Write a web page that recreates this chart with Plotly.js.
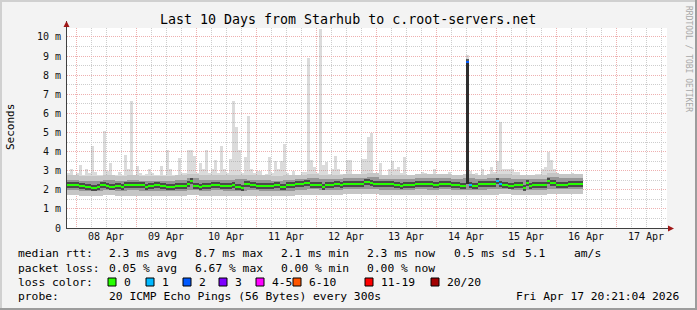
<!DOCTYPE html>
<html><head><meta charset="utf-8">
<script src="https://cdn.plot.ly/plotly-3.0.1.min.js"></script>
<style>html,body{margin:0;padding:0;background:#f3f3f3;} #chart{width:697px;height:310px;}</style>
</head><body><div id="chart"></div>
<script>
// ---- time base: hours relative to 08 Apr 00:00; window starts 07 Apr 20:24 ----
const startHour = -3.6;
const stepHours = 1.2;        // fine bins (median / max)
const smokeStepHours = 4.8;   // coarse bins (smoke bands)

// median RTT per fine bin (ms)
const medianMs = [
 2.25,2.25,2.25,2.25,2.2,2.2,2.15,2.15,2.1,2.1,
 2.15,2.25,2.25,2.2,2.15,2.15,2.2,2.2,2.15,2.25,
 2.25,2.25,2.25,2.25,2.25,2.25,2.15,2.2,2.2,2.25,
 2.25,2.2,2.2,2.15,2.15,2.15,2.2,2.2,2.2,2.2,
 2.3,2.45,2.2,2.2,2.15,2.2,2.2,2.2,2.25,2.25,
 2.25,2.2,2.2,2.2,2.2,2.25,2.15,2.15,2.1,2.3,
 2.3,2.25,2.25,2.2,2.2,2.2,2.2,2.2,2.2,2.25,
 2.25,2.15,2.15,2.25,2.25,2.25,2.3,2.3,2.3,2.35,
 2.35,2.25,2.25,2.25,2.25,2.15,2.25,2.25,2.25,2.3,
 2.3,2.25,2.3,2.3,2.3,2.3,2.3,2.3,2.3,2.4,
 2.4,2.35,2.3,2.3,2.3,2.3,2.3,2.3,2.3,2.25,
 2.25,2.2,2.25,2.25,2.25,2.25,2.3,2.3,2.3,2.3,
 2.3,2.3,2.25,2.25,2.3,2.3,2.3,2.3,2.25,2.25,
 2.25,2.2,2.2,8.7,2.25,2.2,2.2,2.3,2.3,2.3,
 2.3,2.3,2.3,2.45,2.3,2.25,2.25,2.2,2.2,2.25,
 2.25,2.25,2.1,2.35,2.2,2.25,2.25,2.25,2.25,2.25,
 2.45,2.35,2.35,2.25,2.25,2.25,2.25,2.3,2.3,2.3,
 2.3,2.3];

// max RTT per fine bin (ms)
const maxMs = [
 2.9,3.1,2.8,2.9,3.3,2.8,3.1,2.9,4.3,2.95,
 2.8,2.8,5.1,3.0,3.4,2.8,2.8,2.95,2.8,3.8,
 3.1,6.65,2.8,3.25,2.9,2.8,2.85,3.1,2.9,2.8,
 2.8,3.25,2.8,4.1,3.1,2.8,2.8,3.65,2.9,2.9,
 4.1,4.1,3.75,2.9,3.4,3.1,4.1,2.9,3.1,3.55,
 2.9,4.3,3.1,2.9,3.6,6.65,5.3,4.1,2.9,3.7,
 5.85,3.1,2.9,3.0,3.0,2.8,2.85,3.7,2.9,3.5,
 3.1,3.5,4.4,2.9,2.8,3.0,2.8,2.8,2.95,2.95,
 8.9,3.55,3.2,2.9,10.4,3.3,3.45,2.85,3.1,3.75,
 3.1,2.85,2.85,3.55,3.55,2.85,2.8,2.8,3.6,3.6,
 4.75,4.95,2.8,2.8,3.4,2.8,2.8,3.1,3.5,3.1,
 3.2,2.9,3.7,2.8,2.8,2.8,2.8,2.8,2.95,2.9,
 2.85,2.85,3.1,2.8,2.85,2.8,2.8,2.95,2.8,2.8,
 2.8,2.8,2.8,9.05,3.0,2.8,2.9,2.8,3.1,2.8,
 2.8,3.2,2.95,3.5,5.55,3.1,3.1,3.1,3.1,2.95,
 2.95,2.8,2.8,2.8,2.8,2.8,2.85,2.85,3.1,3.2,
 4.0,3.55,3.1,2.8,2.8,2.85,2.8,2.8,2.9,2.85,
 2.85,2.85];

// bins with packet loss (fine bin index -> lost pings)
const lossBins = [133,134,143,144];
const lossCounts = [2,1,1,1];

// dense smoke burst
const burstBins = [133];
const burstLoMs = [2.3];
const burstHiMs = [8.75];

// smoke bands per coarse bin (ms)
const smokeLoMs = [1.75,1.7,1.7,1.75,1.7,1.7,1.7,1.7,1.7,1.7,
 1.75,1.7,1.7,1.7,1.7,1.7,1.7,1.7,1.7,1.75,
 1.75,1.75,1.75,1.8,1.8,1.8,1.75,1.75,1.75,1.75,
 1.75,1.75,1.75,1.75,1.75,1.75,1.8,1.75,1.75,1.75,
 1.8,1.8,1.8];
const smokeQ1Ms = [2.0,1.95,1.95,2.0,1.95,2.0,1.95,1.95,1.95,1.95,
 2.0,1.95,2.0,1.95,1.95,2.0,1.95,1.95,1.95,2.0,
 2.05,2.0,2.0,2.05,2.05,2.05,2.0,2.0,2.0,2.05,
 2.0,2.05,2.0,2.0,2.0,2.05,2.05,2.0,2.0,2.0,
 2.05,2.05,2.05];
const smokeQ3Ms = [2.5,2.45,2.45,2.5,2.45,2.5,2.45,2.45,2.45,2.5,
 2.6,2.5,2.5,2.5,2.55,2.5,2.5,2.45,2.5,2.55,
 2.6,2.55,2.55,2.6,2.6,2.65,2.55,2.55,2.55,2.6,
 2.6,2.6,2.55,2.6,2.55,2.6,2.6,2.55,2.55,2.55,
 2.65,2.6,2.6];
const smokeHiMs = [2.75,2.7,2.7,2.75,2.7,2.75,2.7,2.7,2.7,2.75,
 2.85,2.75,2.75,2.75,2.8,2.8,2.75,2.7,2.75,2.8,
 2.85,2.8,2.8,2.85,2.85,2.9,2.8,2.8,2.8,2.85,
 2.85,2.85,2.8,2.85,2.8,2.85,2.85,2.8,2.8,2.8,
 2.9,2.85,2.85];

// axes
const dayTickHours = [0,24,48,72,96,120,144,168,192,216];
const dayTickLabels = ['08 Apr','09 Apr','10 Apr','11 Apr','12 Apr','13 Apr','14 Apr','15 Apr','16 Apr','17 Apr'];
const yTickVals = [0,1,2,3,4,5,6,7,8,9,10];
const yTickLabels = ['0','1 m','2 m','3 m','4 m','5 m','6 m','7 m','8 m','9 m','10 m'];

// legend
const lossLabels = ['0','1','2','3','4-5','6-10','11-19','20/20'];
const lossColors = ['#26ff00','#00b8ff','#0059ff','#7e00ff','#ff00ff','#ff5500','#ff0000','#a10000'];
const lossLimits = [0,1,2,3,5,10,19,20];
const rttLegend = ['median rtt:','2.3 ms avg','8.7 ms max','2.1 ms min','2.3 ms now','0.5 ms sd','5.1','am/s'];
const lossLegend = ['packet loss:','0.05 % avg','6.67 % max','0.00 % min','0.00 % now'];
const probeLegend = ['probe:','20 ICMP Echo Pings (56 Bytes) every 300s'];
const stampText = 'Fri Apr 17 20:21:04 2026';
const titleText = 'Last 10 Days from Starhub to c.root-servers.net';

// ---- layout helpers (pixel -> paper) ----
const L=67, T=28, W=600, H=200;
const px = x => (x-L)/W;
const py = y => (T+H-y)/H;
const MONO = 'DejaVu Sans Mono';
const xRange = [startHour, startHour+240];
const yRange = [0, 10.47];

const fineX = medianMs.map((_,i)=>startHour+stepHours*(i+0.5));
const coarseX = smokeLoMs.map((_,j)=>startHour+smokeStepHours*(j+0.5));
const fineLo = medianMs.map((_,i)=>smokeLoMs[Math.min(smokeLoMs.length-1, Math.floor(i*stepHours/smokeStepHours))]);
const lossPerBin = medianMs.map(()=>0);
lossBins.forEach((b,k)=>{lossPerBin[b]=lossCounts[k];});
const colorFor = n => lossColors[lossLimits.findIndex(t=>n<=t)];

const bar = (x, base, top, width, color, onLabelAxes) => Object.assign({
  type:'bar', x:x, base:base, y:top.map((t,i)=>t-base[i]), width:width,
  marker:{color:color, line:{width:0}}, hoverinfo:'skip', showlegend:false
}, onLabelAxes ? {xaxis:'x2', yaxis:'y2'} : {});

const traces = [
  bar(fineX, fineLo, maxMs, stepHours, 'rgba(150,150,150,0.34)'),
  bar(coarseX, smokeLoMs, smokeHiMs, smokeStepHours, '#c6c6c6'),
  bar(coarseX, smokeQ1Ms, smokeQ3Ms, smokeStepHours, '#969696'),
  bar(burstBins.map(b=>fineX[b]), burstLoMs, burstHiMs, stepHours, '#2d2d2d'),
  bar(fineX, medianMs.map(m=>m-0.17), medianMs.map(m=>m+0.17), stepHours, 'rgba(50,50,50,0.75)', true),
  bar(fineX, medianMs.map(m=>m-0.06), medianMs.map(m=>m+0.06), stepHours, lossPerBin.map(colorFor), true)
];

const annotations = [];
const txt = (text,x,y,opt={}) => annotations.push(Object.assign({
  text:text, x:px(x), y:py(y), xref:'paper', yref:'paper', showarrow:false,
  xanchor:'left', yanchor:'middle', font:{family:MONO, size:11.3, color:'#000'}
}, opt));

txt(titleText, 347.5, 19, {xanchor:'center', font:{family:MONO,size:13.3,color:'#000'}});
txt('Seconds', 10, 127, {xanchor:'center', textangle:-90, font:{family:MONO,size:11,color:'#000'}});
txt('RRDTOOL / TOBI OETIKER', 689, 59, {xanchor:'center', textangle:90, font:{family:MONO,size:8,color:'#a8a8a8'}});

const rttX = [16,107,193,279,365,452,523,572];
rttLegend.forEach((s,k)=>txt(s, rttX[k], 254));
const lossX = [16,107,193,279,365];
lossLegend.forEach((s,k)=>txt(s, lossX[k], 268));
txt('loss color:', 16, 282);
const boxX = [108,146,183,219,256,293,365,431];
lossLabels.forEach((s,k)=>txt(s, boxX[k]+14, 282));
txt(probeLegend[0], 16, 296);
txt(probeLegend[1], 107, 296);
txt(stampText, 681, 296, {xanchor:'right'});

const shapes = [];
const rect = (x0,y0,x1,y1,fill,line) => shapes.push({type:'rect', xref:'paper', yref:'paper',
  x0:px(x0), x1:px(x1), y0:py(y1), y1:py(y0), fillcolor:fill,
  line: line ? {color:line, width:1} : {width:0}, layer:'above'});
// frame
rect(0,0,697,2,'#d0d0d0'); rect(0,0,2,310,'#d0d0d0');
rect(0,308,697,310,'#9c9c9c'); rect(695,0,697,310,'#9c9c9c');
// legend boxes
boxX.forEach((x,k)=>rect(x,278,x+8,286,lossColors[k],'#000'));
// axis extensions and arrows
shapes.push({type:'line', xref:'paper', yref:'paper', x0:px(66.5), x1:px(66.5), y0:py(21), y1:py(28), line:{color:'#404040',width:1}, layer:'above'});
shapes.push({type:'line', xref:'paper', yref:'paper', x0:px(667), x1:px(670), y0:py(228.5), y1:py(228.5), line:{color:'#404040',width:1}, layer:'above'});
const path = pts => 'M'+pts.map(p=>px(p[0])+','+py(p[1])).join('L')+'Z';
shapes.push({type:'path', xref:'paper', yref:'paper', path:path([[63.5,27],[69.5,27],[66.5,21]]), fillcolor:'#a01818', line:{width:0}, layer:'above'});
shapes.push({type:'path', xref:'paper', yref:'paper', path:path([[668,225.5],[668,231.5],[674,228.5]]), fillcolor:'#a01818', line:{width:0}, layer:'above'});

const majorGrid = '#eeb0b0';
const minorGrid = '#cdcdcd';
const DOTS = '1px,1px';
const layout = {
  width:697, height:310, margin:{l:L, r:697-L-W, t:T, b:310-T-H, pad:0},
  paper_bgcolor:'#f3f3f3', plot_bgcolor:'#ffffff',
  barmode:'overlay', bargap:0, showlegend:false,
  // primary axes: minor grid (6 h / 0.5 ms) and axis lines
  xaxis:{range:xRange, tickmode:'linear', tick0:0, dtick:6, showticklabels:false, ticks:'',
    showgrid:true, gridcolor:minorGrid, gridwidth:1, griddash:DOTS,
    zeroline:false, showline:true, linecolor:'#404040', linewidth:1, fixedrange:true},
  yaxis:{range:yRange, tickmode:'linear', tick0:0, dtick:0.5, showticklabels:false, ticks:'',
    showgrid:true, gridcolor:minorGrid, gridwidth:1, griddash:DOTS,
    zeroline:false, showline:true, linecolor:'#404040', linewidth:1, fixedrange:true},
  // overlay axes: major grid (days / 1 ms) and tick labels
  xaxis2:{overlaying:'x', anchor:'y2', side:'bottom', range:xRange, tickmode:'array', tickvals:dayTickHours, ticktext:dayTickLabels,
    ticklabelshift:30, ticks:'', showgrid:true, gridcolor:majorGrid, gridwidth:1, griddash:DOTS,
    zeroline:false, showline:false, fixedrange:true,
    tickfont:{family:MONO, size:10, color:'#111'}, ticklabelstandoff:1},
  yaxis2:{overlaying:'y', anchor:'x2', side:'left', range:yRange, tickmode:'array', tickvals:yTickVals, ticktext:yTickLabels,
    ticks:'', showgrid:true, gridcolor:majorGrid, gridwidth:1, griddash:DOTS,
    zeroline:false, showline:false, fixedrange:true,
    tickfont:{family:MONO, size:10, color:'#111'}, ticklabelstandoff:5},
  annotations:annotations, shapes:shapes
};
Plotly.newPlot('chart', traces, layout, {staticPlot:true, displayModeBar:false});
</script></body></html>
